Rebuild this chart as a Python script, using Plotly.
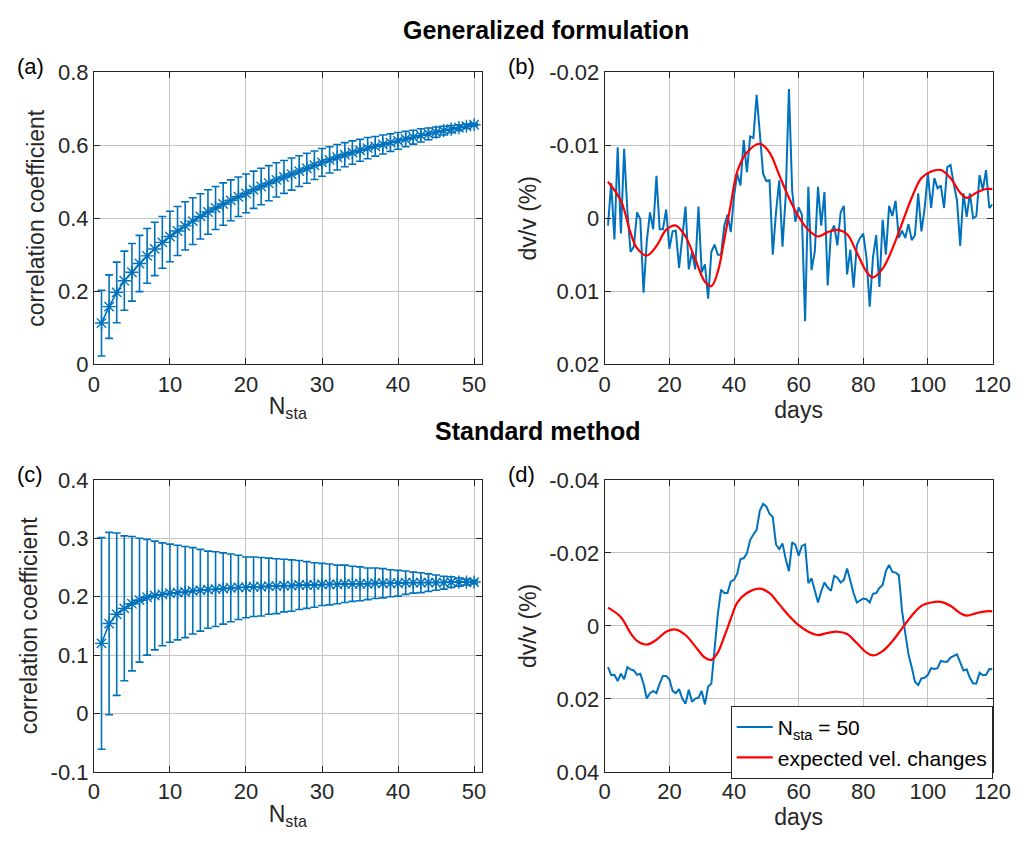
import plotly.graph_objects as go

# ---------------- data ----------------
n_sta = list(range(1, 51))

gen_mean = [0.113, 0.158, 0.197, 0.229, 0.252, 0.276, 0.297, 0.316, 0.334, 0.350,
            0.365, 0.379, 0.392, 0.405, 0.417, 0.428, 0.439, 0.449, 0.459, 0.468,
            0.478, 0.487, 0.496, 0.505, 0.513, 0.521, 0.529, 0.537, 0.545, 0.553,
            0.560, 0.567, 0.574, 0.580, 0.586, 0.592, 0.597, 0.602, 0.607, 0.612,
            0.617, 0.622, 0.627, 0.631, 0.636, 0.640, 0.644, 0.648, 0.652, 0.656]
gen_err = [0.090, 0.087, 0.083, 0.081, 0.079, 0.077, 0.075, 0.073, 0.071, 0.069,
           0.067, 0.066, 0.064, 0.062, 0.061, 0.059, 0.058, 0.056, 0.054, 0.053,
           0.051, 0.050, 0.048, 0.047, 0.045, 0.044, 0.042, 0.041, 0.039, 0.038,
           0.036, 0.035, 0.033, 0.032, 0.030, 0.029, 0.027, 0.026, 0.024, 0.023,
           0.021, 0.019, 0.018, 0.016, 0.014, 0.012, 0.010, 0.008, 0.006, 0.003]

std_mean = [0.120, 0.154, 0.170, 0.180, 0.188, 0.194, 0.199, 0.202, 0.204, 0.206,
            0.207, 0.208, 0.210, 0.211, 0.212, 0.213, 0.214, 0.215, 0.216, 0.216,
            0.217, 0.217, 0.218, 0.218, 0.219, 0.219, 0.220, 0.220, 0.220, 0.221,
            0.221, 0.221, 0.222, 0.222, 0.222, 0.222, 0.223, 0.223, 0.223, 0.223,
            0.224, 0.224, 0.224, 0.224, 0.224, 0.224, 0.225, 0.225, 0.225, 0.225]
std_err = [0.181, 0.156, 0.139, 0.124, 0.115, 0.106, 0.099, 0.093, 0.088, 0.084,
           0.081, 0.078, 0.074, 0.070, 0.066, 0.064, 0.061, 0.058, 0.055, 0.052,
           0.051, 0.050, 0.048, 0.047, 0.045, 0.044, 0.042, 0.040, 0.038, 0.036,
           0.035, 0.033, 0.032, 0.030, 0.029, 0.027, 0.026, 0.025, 0.023, 0.022,
           0.020, 0.018, 0.017, 0.015, 0.013, 0.011, 0.009, 0.007, 0.005, 0.003]

days = list(range(1, 121))

gen_dvv = [0.0010, -0.0048, 0.0029, -0.0097, 0.0021, -0.0095, -0.0010, 0.0046, 0.0039, -0.0008,
           0.0001, 0.0102, 0.0032, -0.0008, 0.0015, -0.0058, 0.0015, 0.0015, -0.0012, 0.0042,
           0.0018, 0.0017, 0.0068, 0.0028, -0.0016, 0.0070, 0.0046, 0.0070, -0.0016, 0.0074,
           0.0063, 0.0110, 0.0046, 0.0036, 0.0050, 0.0050, 0.0010, -0.0005, 0.0019, -0.0030,
           -0.0061, -0.0045, -0.0107, -0.0063, -0.0112, -0.0110, -0.0169, -0.0116, -0.0061, -0.0051,
           -0.0052, 0.0050, -0.0008, -0.0052, 0.0039, -0.0030, -0.0177, -0.0038, 0.0005, -0.0015,
           -0.0005, 0.0141, -0.0043, 0.0071, 0.0046, -0.0043, 0.0010, -0.0036, 0.0092, 0.0019,
           0.0010, 0.0037, -0.0008, -0.0017, 0.0077, 0.0043, 0.0095, 0.0037, 0.0027, 0.0021,
           0.0054, 0.0121, 0.0054, 0.0023, 0.0094, 0.0002, 0.0050, -0.0017, -0.0003, -0.0024,
           0.0027, 0.0017, 0.0027, 0.0008, 0.0030, 0.0023, -0.0034, 0.0018, -0.0014, -0.0061,
           -0.0014, -0.0055, -0.0041, -0.0045, -0.0014, -0.0070, -0.0073, -0.0047, -0.0025, 0.0038,
           -0.0034, -0.0002, -0.0034, 0.0000, -0.0003, -0.0059, -0.0039, -0.0066, -0.0014, -0.0019]

std_dvv = [0.0113, 0.0135, 0.0134, 0.0151, 0.0131, 0.0146, 0.0113, 0.0119, 0.0122, 0.0134,
           0.0131, 0.0158, 0.0199, 0.0184, 0.0178, 0.0184, 0.0158, 0.0137, 0.0137, 0.0146,
           0.0178, 0.0184, 0.0173, 0.0199, 0.0213, 0.0175, 0.0208, 0.0199, 0.0197, 0.0178,
           0.0215, 0.0166, 0.0158, 0.0056, -0.0033, -0.0099, -0.0090, -0.0090, -0.0121, -0.0126,
           -0.0143, -0.0183, -0.0185, -0.0199, -0.0235, -0.0250, -0.0263, -0.0316, -0.0334, -0.0327,
           -0.0307, -0.0298, -0.0223, -0.0210, -0.0226, -0.0183, -0.0150, -0.0229, -0.0222, -0.0192,
           -0.0219, -0.0223, -0.0117, -0.0130, -0.0099, -0.0064, -0.0095, -0.0119, -0.0105, -0.0096,
           -0.0137, -0.0132, -0.0119, -0.0126, -0.0157, -0.0121, -0.0090, -0.0064, -0.0070, -0.0075,
           -0.0073, -0.0064, -0.0088, -0.0090, -0.0104, -0.0112, -0.0150, -0.0167, -0.0148, -0.0146,
           -0.0139, -0.0042, 0.0020, 0.0078, 0.0113, 0.0153, 0.0162, 0.0144, 0.0142, 0.0134,
           0.0116, 0.0118, 0.0116, 0.0096, 0.0098, 0.0098, 0.0087, 0.0082, 0.0078, 0.0100,
           0.0122, 0.0119, 0.0142, 0.0158, 0.0158, 0.0128, 0.0135, 0.0134, 0.0118, 0.0119]

exp_days = [1, 5, 8, 10, 13, 16, 19, 22, 25, 28, 31, 33, 35, 37, 39, 41, 44, 48, 51, 54,
            57, 60, 63, 66, 69, 72, 75, 78, 81, 83, 86, 89, 92, 95, 98, 101, 104, 107, 110,
            112, 115, 118, 120]
exp_dvv = [-0.0050, -0.0024, 0.0020, 0.0041, 0.0051, 0.0038, 0.0016, 0.0010, 0.0025, 0.0056,
           0.0087, 0.0093, 0.0073, 0.0029, -0.0019, -0.0064, -0.0090, -0.0102, -0.0090, -0.0059,
           -0.0028, -0.0002, 0.0016, 0.0025, 0.0019, 0.0016, 0.0022, 0.0047, 0.0073, 0.0081,
           0.0069, 0.0042, 0.0007, -0.0028, -0.0055, -0.0064, -0.0066, -0.0055, -0.0035,
           -0.0028, -0.0035, -0.0040, -0.0040]

ticks_a = [0, 0.2, 0.4, 0.6, 0.8]
ticklabels_a = ["0", "0.2", "0.4", "0.6", "0.8"]
ticks_b = [-0.02, -0.01, 0, 0.01, 0.02]
ticklabels_b = ["-0.02", "-0.01", "0", "0.01", "0.02"]
ticks_c = [-0.1, 0, 0.1, 0.2, 0.3, 0.4]
ticklabels_c = ["-0.1", "0", "0.1", "0.2", "0.3", "0.4"]
ticks_d = [-0.04, -0.02, 0, 0.02, 0.04]
ticklabels_d = ["-0.04", "-0.02", "0", "0.02", "0.04"]

# ---------------- style ----------------
BLUE = "#0072BD"
RED = "#FF0000"
FONT = "Liberation Sans, Arial, Helvetica, sans-serif"
W, H = 1032, 850

fig = go.Figure()

err_style = dict(type="data", thickness=1.6, width=4, color=BLUE)

fig.add_trace(go.Scatter(x=n_sta, y=gen_mean, mode="lines+markers",
                         error_y=dict(array=gen_err, **err_style),
                         line=dict(color=BLUE, width=1.6),
                         marker=dict(symbol="asterisk-open", size=11, color=BLUE,
                                     line=dict(color=BLUE, width=1.4)),
                         showlegend=False, xaxis="x", yaxis="y"))
fig.add_trace(go.Scatter(x=days, y=gen_dvv, mode="lines",
                         line=dict(color=BLUE, width=2), showlegend=False,
                         xaxis="x2", yaxis="y2"))
fig.add_trace(go.Scatter(x=exp_days, y=exp_dvv, mode="lines",
                         line=dict(color=RED, width=2.2, shape="spline", smoothing=1.0),
                         showlegend=False, xaxis="x2", yaxis="y2"))
fig.add_trace(go.Scatter(x=n_sta, y=std_mean, mode="lines+markers",
                         error_y=dict(array=std_err, **err_style),
                         line=dict(color=BLUE, width=1.6),
                         marker=dict(symbol="asterisk-open", size=11, color=BLUE,
                                     line=dict(color=BLUE, width=1.4)),
                         showlegend=False, xaxis="x3", yaxis="y3"))
fig.add_trace(go.Scatter(x=days, y=std_dvv, mode="lines",
                         line=dict(color=BLUE, width=2), name="N<sub>sta</sub> = 50",
                         showlegend=True, xaxis="x4", yaxis="y4"))
fig.add_trace(go.Scatter(x=exp_days, y=exp_dvv, mode="lines",
                         line=dict(color=RED, width=2.2, shape="spline", smoothing=1.0),
                         name="expected vel. changes", showlegend=True,
                         xaxis="x4", yaxis="y4"))

xl, xr = 90 / W, 487 / W
xl2, xr2 = 613 / W, 1010 / W
yt_top, yb_top = 1 - 62 / H, 1 - 363 / H
yt_bot, yb_bot = 1 - 482 / H, 1 - 783 / H

common = dict(showline=True, linecolor="#262626", linewidth=1, mirror="ticks",
              ticks="inside", ticklen=6, tickcolor="#262626",
              showgrid=True, gridcolor="#c4c4c4", gridwidth=1, zeroline=False,
              tickfont=dict(family=FONT, size=22, color="#262626"))

title_font = dict(family=FONT, size=23, color="#262626")

fig.update_layout(
    width=W, height=H, autosize=False,
    margin=dict(l=0, r=0, t=0, b=0),
    paper_bgcolor="white", plot_bgcolor="white",
    font=dict(family=FONT, size=22, color="#262626"),
    xaxis=dict(domain=[xl, xr], range=[0, 51], tickvals=[0, 10, 20, 30, 40, 50],
               anchor="y", title=dict(text="N<sub>sta</sub>", font=title_font, standoff=2),
               **common),
    yaxis=dict(domain=[yb_top, yt_top], range=[0, 0.8], tickvals=ticks_a,
               ticktext=ticklabels_a, anchor="x",
               title=dict(text="correlation coefficient", font=title_font, standoff=6),
               **common),
    xaxis2=dict(domain=[xl2, xr2], range=[0, 120], tickvals=[0, 20, 40, 60, 80, 100, 120],
                anchor="y2", title=dict(text="days", font=title_font, standoff=2), **common),
    yaxis2=dict(domain=[yb_top, yt_top], range=[0.02, -0.02], tickvals=ticks_b,
                ticktext=ticklabels_b, anchor="x2",
                title=dict(text="dv/v (%)", font=title_font, standoff=6), **common),
    xaxis3=dict(domain=[xl, xr], range=[0, 51], tickvals=[0, 10, 20, 30, 40, 50],
                anchor="y3", title=dict(text="N<sub>sta</sub>", font=title_font, standoff=2),
                **common),
    yaxis3=dict(domain=[yb_bot, yt_bot], range=[-0.1, 0.4], tickvals=ticks_c,
                ticktext=ticklabels_c, anchor="x3",
                title=dict(text="correlation coefficient", font=title_font, standoff=6),
                **common),
    xaxis4=dict(domain=[xl2, xr2], range=[0, 120], tickvals=[0, 20, 40, 60, 80, 100, 120],
                anchor="y4", title=dict(text="days", font=title_font, standoff=2), **common),
    yaxis4=dict(domain=[yb_bot, yt_bot], range=[0.04, -0.04], tickvals=ticks_d,
                ticktext=ticklabels_d, anchor="x4",
                title=dict(text="dv/v (%)", font=title_font, standoff=6), **common),
    legend=dict(x=742 / W, y=1 - 715 / H, xanchor="left", yanchor="top",
                bgcolor="white", bordercolor="#262626", borderwidth=1,
                font=dict(family=FONT, size=21, color="black"),
                itemwidth=36, tracegroupgap=0),
)

ann_font = dict(family=FONT, size=22, color="black")
annotations = [
    dict(text="<b>Generalized formulation</b>", x=553 / W, y=1 - 19 / H,
         font=dict(family=FONT, size=25, color="black")),
    dict(text="<b>Standard method</b>", x=545 / W, y=1 - 432 / H,
         font=dict(family=FONT, size=25, color="black")),
    dict(text="(a)", x=25 / W, y=1 - 56 / H, font=ann_font),
    dict(text="(b)", x=528 / W, y=1 - 56 / H, font=ann_font),
    dict(text="(c)", x=25 / W, y=1 - 476 / H, font=ann_font),
    dict(text="(d)", x=528 / W, y=1 - 476 / H, font=ann_font),
]
for a in annotations:
    fig.add_annotation(xref="paper", yref="paper", showarrow=False,
                       xanchor="center", yanchor="middle", **a)

fig.write_html("out.html", default_width="1032px", default_height="850px",
               config={"responsive": False},
               post_script="document.body.style.margin='0';document.body.style.padding='0';")
